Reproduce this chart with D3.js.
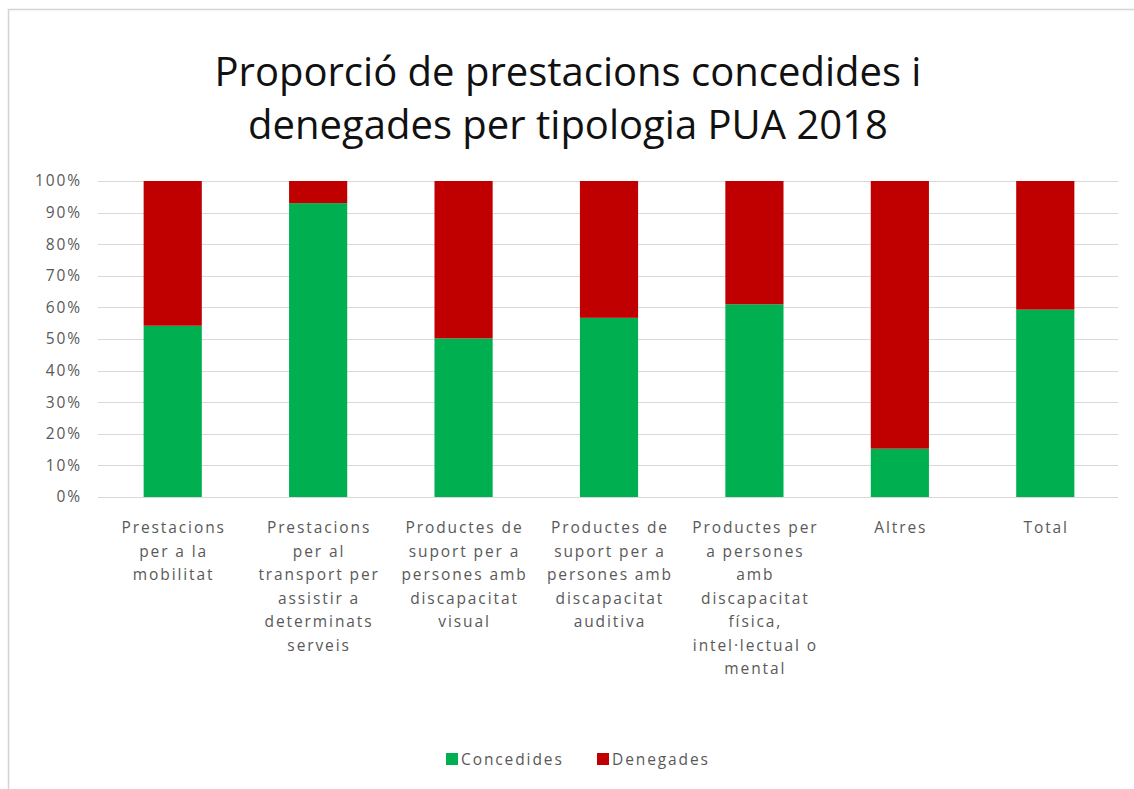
<!DOCTYPE html>
<html>
<head>
<meta charset="utf-8">
<script src="https://cdn.jsdelivr.net/npm/d3@7"></script>
<style>
  html, body { margin: 0; padding: 0; background: #fff; }
  svg { display: block; }
</style>
</head>
<body>
<svg id="chart" width="1134" height="789"></svg>
<script>
const categories = [
  "Prestacions per a la mobilitat",
  "Prestacions per al transport per assistir a determinats serveis",
  "Productes de suport per a persones amb discapacitat visual",
  "Productes de suport per a persones amb discapacitat auditiva",
  "Productes per a persones amb discapacitat física, intel·lectual o mental",
  "Altres",
  "Total"
];
const categoryLines = [
  ["Prestacions", "per a la", "mobilitat"],
  ["Prestacions", "per al", "transport per", "assistir a", "determinats", "serveis"],
  ["Productes de", "suport per a", "persones amb", "discapacitat", "visual"],
  ["Productes de", "suport per a", "persones amb", "discapacitat", "auditiva"],
  ["Productes per", "a persones", "amb", "discapacitat", "física,", "intel·lectual o", "mental"],
  ["Altres"],
  ["Total"]
];
const concedides = [54.2, 93, 50.2, 56.7, 61, 15.3, 59.3];
const denegades  = [45.8, 7, 49.8, 43.3, 39, 84.7, 40.7];
const seriesNames = ["Concedides", "Denegades"];
const seriesColors = ["#00b050", "#c00000"];
const yTicks = [0, 10, 20, 30, 40, 50, 60, 70, 80, 90, 100];
const titleLines = ["Proporció de prestacions concedides i", "denegades per tipologia PUA 2018"];

const svg = d3.select("#chart");
const font = "'Open Sans', 'Noto Sans', sans-serif";
const labelSize = 15.5;
const labelSpacing = 1.9;

// outer chart border
svg.append("rect").attr("x", 8.5).attr("y", 9.5).attr("width", 1140).attr("height", 800)
  .attr("fill", "#fff").attr("stroke", "#d4d4d4").attr("stroke-width", 1.5);

// title
const title = svg.append("text").attr("text-anchor", "middle")
  .attr("font-family", font).attr("font-size", 40).attr("fill", "#111");
titleLines.forEach((t, i) => {
  title.append("tspan").attr("x", 568).attr("y", 86 + i * 53).text(t);
});

const x = d3.scaleBand().domain(categories).range([100, 1118]).paddingInner(0.6).paddingOuter(0.3);
const y = d3.scaleLinear().domain([0, 100]).range([497, 181]);

// gridlines
svg.append("g").selectAll("line").data(yTicks).join("line")
  .attr("x1", 98).attr("x2", 1118)
  .attr("y1", d => Math.round(y(d)) + 0.5).attr("y2", d => Math.round(y(d)) + 0.5)
  .attr("stroke", "#d9d9d9").attr("stroke-width", 1);

// y axis labels
const yAxis = d3.axisLeft(y).tickValues(yTicks).tickFormat(d => d + "%").tickSize(0).tickPadding(0);
const yg = svg.append("g").attr("transform", "translate(82,0)").call(yAxis);
yg.select(".domain").remove();
yg.selectAll("text").attr("font-family", font).attr("font-size", labelSize)
  .attr("letter-spacing", labelSpacing).attr("fill", "#595959");

// stacked bars
const rows = categories.map((c, i) => ({ cat: c, Concedides: concedides[i], Denegades: denegades[i] }));
const stack = d3.stack().keys(seriesNames)(rows);
svg.append("g").selectAll("g").data(stack).join("g")
  .attr("fill", (d, i) => seriesColors[i])
  .selectAll("rect").data(d => d).join("rect")
  .attr("x", d => x(d.data.cat))
  .attr("width", x.bandwidth())
  .attr("y", d => y(d[1]))
  .attr("height", d => y(d[0]) - y(d[1]));

// x axis labels
const xg = svg.append("g");
categories.forEach((c, i) => {
  const t = xg.append("text").attr("text-anchor", "middle")
    .attr("font-family", font).attr("font-size", labelSize)
    .attr("letter-spacing", labelSpacing).attr("fill", "#595959");
  categoryLines[i].forEach((ln, j) => {
    t.append("tspan").attr("x", x(c) + x.bandwidth() / 2 + labelSpacing / 2).attr("y", 533 + j * 23.5).text(ln);
  });
});

// legend
const legendItems = [{ name: "Concedides", x: 446 }, { name: "Denegades", x: 597 }];
const lg = svg.append("g");
legendItems.forEach((it, i) => {
  lg.append("rect").attr("x", it.x).attr("y", 753).attr("width", 12).attr("height", 12).attr("fill", seriesColors[i]);
  lg.append("text").attr("x", it.x + 15).attr("y", 765)
    .attr("font-family", font).attr("font-size", labelSize)
    .attr("letter-spacing", labelSpacing).attr("fill", "#595959").text(it.name);
});
</script>
</body>
</html>
